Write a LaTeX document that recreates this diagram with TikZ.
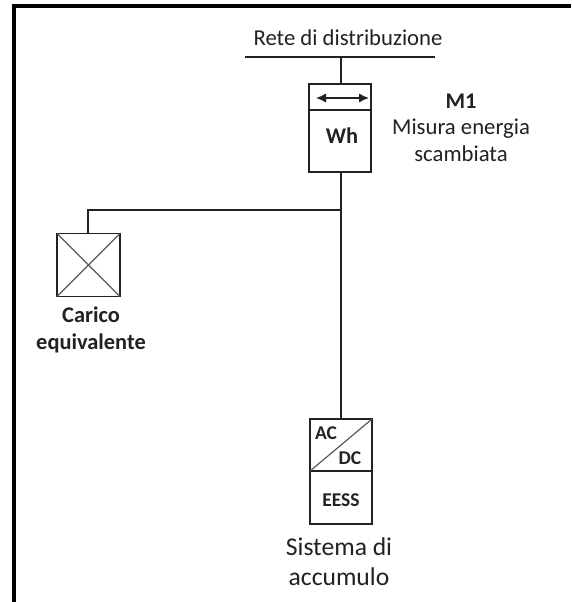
\documentclass[tikz,border=0pt]{standalone}
\usepackage{fontspec}
\setmainfont{Carlito}
\usetikzlibrary{arrows.meta}
\definecolor{ink}{HTML}{222222}
\tikzset{
  x=1pt,y=-1pt,
  box/.style={draw=ink,line width=1.7pt,inner sep=0pt,outer sep=0pt,minimum width=#1,fill=none},
  conn/.style={draw=ink,line width=1.7pt},
  thin diag/.style={draw=ink!75,line width=1.2pt},
  lab/.style={inner sep=0pt,font=\fontsize{22.7}{27}\selectfont,text=ink},
  biglab/.style={inner sep=0pt,font=\fontsize{25.6}{30}\selectfont,text=ink},
  blab/.style={inner sep=0pt,font=\fontsize{22.4}{27}\selectfont\bfseries,text=ink},
  slab/.style={inner sep=0pt,font=\fontsize{19.5}{23}\selectfont\bfseries,text=ink}
}
\begin{document}
\begin{tikzpicture}
\useasboundingbox (0,0) rectangle (571,602);
\fill[white] (0,0) rectangle (571,602);
% outer frame, running off the right and bottom edges
\draw[black,line width=4pt] (14,602) -- (14,6) -- (571,6);

\node[lab] (rete) at (348,38) {Rete di distribuzione};
\coordinate (busL) at (245,57);
\coordinate (busR) at (435,57);
\coordinate (busC) at (341,57);
\draw[conn] (busL) -- (busR);

\node[box=62pt,minimum height=26pt] (mtop) at (340,97) {};
\node[box=62pt,minimum height=62pt] (wh) at (340,141) {};
\node[blab] at (342,136) {Wh};
\coordinate (arrL) at (316,98);
\coordinate (arrR) at (369,98);
\draw[conn,{Latex[length=10pt,width=9.5pt]}-{Latex[length=10pt,width=9.5pt]}] (arrL) -- (arrR);

\node[blab] (m1) at (461,101) {M1};
\node[lab] (mis) at (461,129) {Misura energia};
\node[lab] (sca) at (461,154) {scambiata};

\coordinate (junc) at (341,210);
\coordinate (corner) at (88,210);

\node[box=63pt,minimum height=63pt] (load) at (88.5,265) {};
\draw[thin diag] (load.north west) -- (load.south east);
\draw[thin diag] (load.north east) -- (load.south west);
\node[blab] (car) at (91,315) {Carico};
\node[blab] (equ) at (91,343) {equivalente};

\node[box=62pt,minimum height=52pt] (conv) at (341,445) {};
\node[box=62pt,minimum height=53pt] (ess) at (341,497.5) {};
\draw[thin diag] (conv.south west) -- (conv.north east);
\node[slab] (ac) at (326,433) {AC};
\node[slab] (dc) at (350,458) {DC};
\node[slab] (eess) at (341,500) {EESS};
\node[biglab] (sis) at (339,547) {Sistema di};
\node[biglab] (acc) at (339,577) {accumulo};

\draw[conn] (busC) -- (busC |- mtop.north);
\draw[conn] (busC |- wh.south) -- (junc);
\draw[conn] (junc) -- (junc |- conv.north);
\draw[conn] (junc) -- (corner) -- (corner |- load.north);
\end{tikzpicture}
\end{document}
